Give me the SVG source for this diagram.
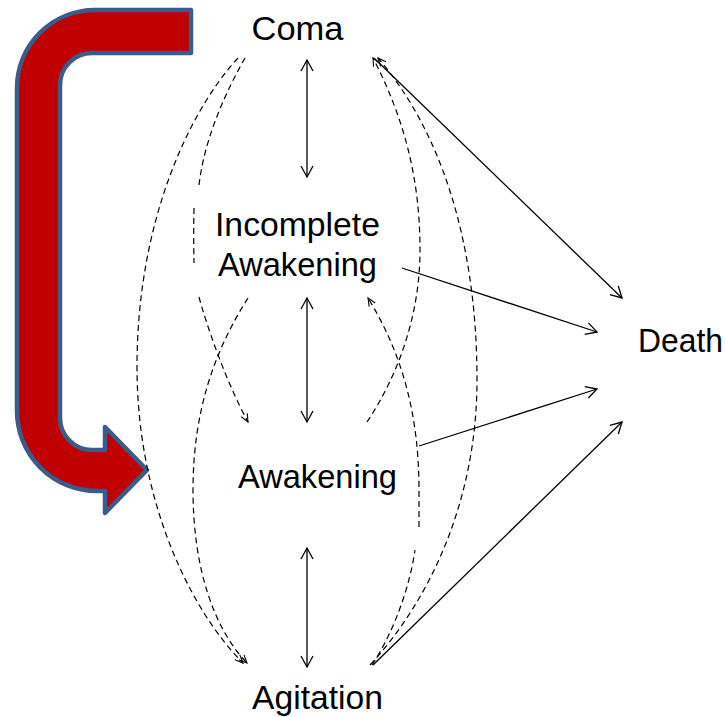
<svg xmlns="http://www.w3.org/2000/svg" width="726" height="717" viewBox="0 0 726 717">
  <style>
    .lbl { font-family: "Liberation Sans", Arial, sans-serif; font-size: 33px; fill: #000; text-anchor: middle; }
    .solid { fill: none; stroke: #000; stroke-width: 1.3; }
    .dash { fill: none; stroke: #000; stroke-width: 1.2; stroke-dasharray: 6 4; }
  </style>
  <defs>
    <marker id="ah" viewBox="-13 -8 16 16" refX="0" refY="0" markerWidth="16" markerHeight="16" markerUnits="userSpaceOnUse" orient="auto-start-reverse">
      <path d="M-11,-6 L0,0 L-11,6" fill="none" stroke="#000" stroke-width="1.3"/>
    </marker>
    <marker id="ahd" viewBox="-10 -6 12 12" refX="0" refY="0" markerWidth="12" markerHeight="12" markerUnits="userSpaceOnUse" orient="auto">
      <path d="M-8,-3.5 L0,0 L-8,3.5" fill="none" stroke="#000" stroke-width="1.1"/>
    </marker>
  </defs>

  <g id="red-arrow">
    <path d="M191,10 L191,53 L92,53 A32,32 0 0 0 60,85 L60,418 A32,32 0 0 0 92,450 L105,450 L105,427 L147,470 L105,513 L105,491 L97,491 A80,80 0 0 1 17,411 L17,88 A78,78 0 0 1 95,10 Z" fill="#C00000" stroke="#385D8A" stroke-width="4.5" stroke-linejoin="round"/>
  </g>

  <g id="connectors">
    <!-- straight bidirectional -->
    <line class="solid" x1="307" y1="60" x2="307" y2="177" marker-start="url(#ah)" marker-end="url(#ah)"/>
    <line class="solid" x1="307" y1="298" x2="307" y2="422" marker-start="url(#ah)" marker-end="url(#ah)"/>
    <line class="solid" x1="307" y1="548" x2="307" y2="667" marker-start="url(#ah)" marker-end="url(#ah)"/>
    <!-- to Death -->
    <line class="solid" x1="374" y1="58" x2="622" y2="298" marker-end="url(#ah)"/>
    <line class="solid" x1="402" y1="268" x2="597" y2="332" marker-end="url(#ah)"/>
    <line class="solid" x1="419" y1="446" x2="597" y2="389" marker-end="url(#ah)"/>
    <line class="solid" x1="373" y1="665" x2="622" y2="422" marker-end="url(#ah)"/>
    <!-- dashed curves, left side -->
    <path class="dash" d="M238,58 C190,110 137,220 137,367 C137,500 190,610 243,663" marker-end="url(#ahd)"/>
    <path class="dash" d="M245,58 C228,88 205,135 199,185 M194,208 C193.6,225 193.6,245 194,263 M199,297 C205,320 225,380 248,422" marker-end="url(#ahd)"/>
    <path class="dash" d="M248,298 C215,350 193,410 193,490 C193,570 215,630 247,663" marker-end="url(#ahd)"/>
    <!-- dashed curves, right side -->
    <path class="dash" d="M370,665 C430,600 477,500 477,380 C477,240 440,130 378,58" marker-end="url(#ahd)"/>
    <path class="dash" d="M367,422 C395,380 420,320 420,250 C420,180 405,120 373,58" marker-end="url(#ahd)"/>
    <path class="dash" d="M372,665 C395,630 410,585 415,550 M419,527 L419,490 C419,410 400,350 368,298" marker-end="url(#ahd)"/>
  </g>

  <g id="node-coma">
    <text class="lbl" x="297.5" y="40" textLength="92" lengthAdjust="spacingAndGlyphs">Coma</text>
  </g>
  <g id="node-incomplete-awakening">
    <text class="lbl" x="297.5" y="236" textLength="165" lengthAdjust="spacingAndGlyphs">Incomplete</text>
    <text class="lbl" x="297.5" y="276" textLength="159" lengthAdjust="spacingAndGlyphs">Awakening</text>
  </g>
  <g id="node-awakening">
    <text class="lbl" x="317.5" y="488" textLength="159" lengthAdjust="spacingAndGlyphs">Awakening</text>
  </g>
  <g id="node-agitation">
    <text class="lbl" x="317.5" y="709" textLength="131" lengthAdjust="spacingAndGlyphs">Agitation</text>
  </g>
  <g id="node-death">
    <text class="lbl" x="680.5" y="352" textLength="85" lengthAdjust="spacingAndGlyphs">Death</text>
  </g>
</svg>
